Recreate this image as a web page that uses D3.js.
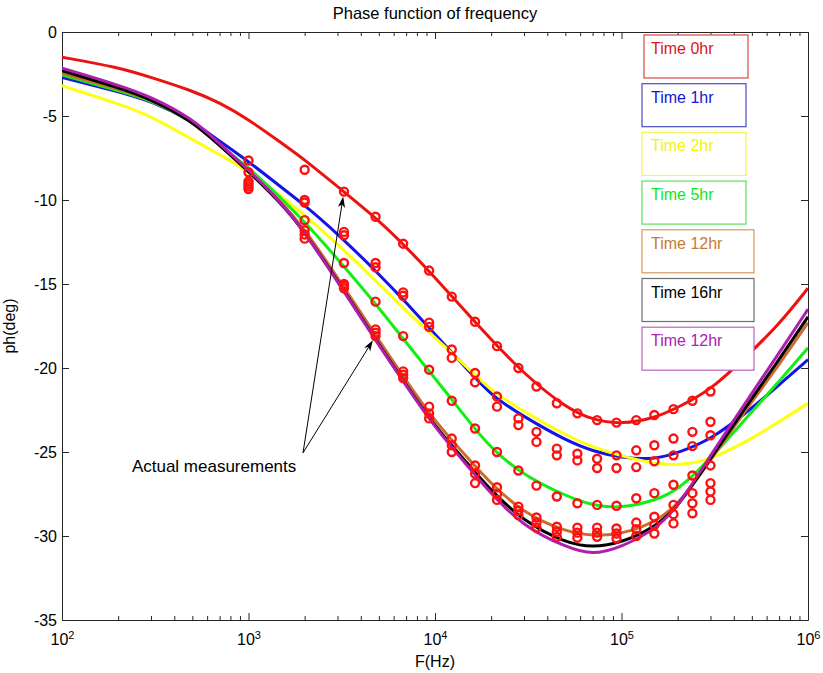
<!DOCTYPE html>
<html>
<head>
<meta charset="utf-8">
<script src="https://cdn.jsdelivr.net/npm/d3@7"></script>
<style>
  html, body { margin: 0; padding: 0; background: #fff; }
  svg { display: block; font-family: "Liberation Sans", Arial, Helvetica, sans-serif; }
</style>
</head>
<body>
<svg id="chart" width="823" height="673"></svg>
<script>
// ---- fitted phase curves (deg) sampled along frequency (Hz) ----
const curveFreq = [100, 200, 300, 500, 700, 1000, 1500, 2000, 3000, 5000, 7000, 10000,
  15000, 20000, 30000, 50000, 70000, 100000, 150000, 200000, 300000, 500000, 700000, 1000000];

const fit0hr  = [-1.5, -2.1, -2.7, -3.5, -4.2, -5.2, -6.6, -7.6, -9.2, -11.2, -12.8, -14.6,
  -16.8, -18.3, -20.35, -22.35, -23.1, -23.35, -23.0, -22.35, -21.35, -19.0, -17.4, -15.25];
const fit1hr  = [-2.7, -3.55, -4.1, -5.3, -6.5, -7.7, -9.25, -10.3, -12.0, -14.4, -16.1, -18.0,
  -20.1, -21.65, -22.9, -24.3, -24.95, -25.35, -25.45, -25.05, -24.3, -22.4, -21.0, -19.5];
const fit2hr  = [-3.2, -4.25, -5.0, -6.4, -7.3, -8.3, -9.8, -10.9, -12.6, -15.0, -16.6, -18.2,
  -20.0, -21.35, -22.6, -24.0, -24.7, -25.25, -25.7, -25.8, -25.5, -24.2, -23.2, -22.1];
const fit5hr  = [-2.55, -3.5, -4.05, -5.3, -6.75, -8.05, -9.9, -11.3, -13.5, -16.4, -18.5, -20.6,
  -23.1, -24.8, -26.4, -27.6, -28.2, -28.35, -27.9, -27.3, -25.4, -22.6, -20.8, -18.8];
const fit12hr = [-2.45, -3.4, -4.0, -5.3, -6.75, -8.25, -10.1, -11.75, -14.6, -18.35, -20.75, -23.2,
  -25.35, -26.9, -28.65, -29.75, -30.0, -29.9, -29.2, -28.2, -25.5, -22.0, -19.8, -17.3];
const fit16hr = [-2.3, -3.3, -4.0, -5.3, -6.75, -8.3, -10.2, -11.9, -14.8, -18.6, -21.0, -23.5,
  -25.7, -27.3, -29.15, -30.4, -30.7, -30.4, -29.5, -28.3, -25.4, -21.8, -19.5, -16.95];
const fit12hrB = [-2.15, -3.15, -3.85, -5.15, -6.65, -8.2, -10.15, -11.9, -14.85, -18.65, -21.05, -23.55,
  -25.85, -27.5, -29.45, -30.65, -31.15, -30.65, -29.65, -28.3, -25.2, -21.5, -19.1, -16.5];

// ---- measured phase (deg) at the sweep frequencies (Hz) ----
const measFreq = [1000, 2000, 3250, 4800, 6750, 9300, 12300, 16400, 21500, 28000,
  35000, 45000, 58000, 74000, 94000, 120000, 150000, 190000, 240000, 300000];

const meas0hr  = [null, -8.2, -9.5, -11.0, -12.6, -14.2, -15.75, -17.25, -18.7, -20.0,
  -21.1, -22.1, -22.7, -23.1, -23.25, -23.1, -22.8, -22.45, -21.95, -21.4];
const meas1hr  = [-7.65, -10.0, -11.9, -13.75, -15.5, -17.3, -18.9, -20.3, -21.7, -23.0,
  -23.8, -24.8, -25.1, -25.4, -25.2, -24.9, -24.6, -24.2, -23.8, -23.2];
const meas2hr  = [-8.35, -10.15, -12.1, -14.0, -15.7, -17.55, -19.4, -20.85, -22.3, -23.4,
  -24.4, -25.2, -25.5, -25.95, -25.95, -25.9, -25.55, -25.2, -24.65, -24.0];
const meas5hr  = [-8.9, -11.2, -13.75, -16.05, -18.1, -20.1, -21.95, -23.6, -25.0, -26.1,
  -27.0, -27.65, -28.05, -28.15, -28.2, -27.75, -27.45, -26.95, -26.4, -25.8];
const meas12hr = [-9.05, -11.8, -15.0, -17.7, -20.2, -22.3, -24.2, -25.8, -27.1, -28.25,
  -28.9, -29.45, -29.5, -29.5, -29.55, -29.2, -28.85, -28.15, -27.45, -26.85];
const meas16hr = [-9.2, -12.05, -15.1, -17.9, -20.4, -22.7, -24.6, -26.3, -27.5, -28.5,
  -29.2, -29.75, -29.8, -29.8, -29.85, -29.6, -29.35, -28.7, -28.05, -27.35];
const meas12hrB = [-9.35, -12.3, -15.25, -18.1, -20.6, -23.0, -25.0, -26.85, -27.85, -28.75,
  -29.5, -30.05, -30.1, -30.05, -30.15, -30.0, -29.85, -29.25, -28.65, -27.85];

const seriesNames  = ["Time 0hr", "Time 1hr", "Time 2hr", "Time 5hr", "Time 12hr", "Time 16hr", "Time 12hr"];
const seriesColors = ["#ee1111", "#1414e6", "#ffff10", "#14ee14", "#cc6c2c", "#000000", "#b01eb0"];
const textColors   = ["#e01414", "#1414d8", "#f4f400", "#14e614", "#c87a30", "#000000", "#b020b0"];
const boxColors    = ["#d84848", "#4a4ac0", "#f4f460", "#5ce05c", "#d8985c", "#6e6e6e", "#c060c0"];
const fitSeries    = [fit0hr, fit1hr, fit2hr, fit5hr, fit12hr, fit16hr, fit12hrB];
const measSeries   = [meas0hr, meas1hr, meas2hr, meas5hr, meas12hr, meas16hr, meas12hrB];

// ---- axes ----
const xDecades = [1e2, 1e3, 1e4, 1e5, 1e6];
const xMinor = [];
for (let d = 100; d < 1e6; d *= 10) for (let k = 2; k <= 9; k++) xMinor.push(d * k);
const yTicks = [0, -5, -10, -15, -20, -25, -30, -35];

// ---- annotation ----
const noteText = "Actual measurements";
const noteLabel = [237, -26.2];          // freq, phase of the label baseline start
const noteTail = [1960, -25.05];         // common arrow tail
const noteTargets = [[3250, -9.5], [4800, -18.1]];

const titleText = "Phase function of frequency";
const xLabel = "F(Hz)";
const yLabel = "ph(deg)";

// ---- layout ----
const W = 823, H = 673;
const margin = { left: 62, top: 32, right: 15, bottom: 53 };
const x0 = margin.left, x1 = W - margin.right, y0 = margin.top, y1 = H - margin.bottom;

const svg = d3.select("#chart");
const x = d3.scaleLog().domain([1e2, 1e6]).range([x0, x1]);
const y = d3.scaleLinear().domain([-35, 0]).range([y1, y0]);

const axisColor = "#262626";
const fontSize = 16;

function styleAxis(g) {
  g.selectAll(".domain").attr("stroke", axisColor).attr("stroke-width", 1);
  g.selectAll(".tick line").attr("stroke", axisColor).attr("stroke-width", 1);
  g.selectAll(".tick text").attr("fill", "#000").attr("font-size", fontSize)
    .attr("font-family", "Liberation Sans, Arial, sans-serif");
}

// bottom axis: major decades with 10^n labels
const gBottom = svg.append("g").attr("transform", `translate(0,${y1})`)
  .call(d3.axisBottom(x).tickValues(xDecades).tickSizeInner(-7).tickSizeOuter(0)
    .tickPadding(14).tickFormat(() => ""));
styleAxis(gBottom);
gBottom.selectAll(".tick text").each(function (d) {
  const t = d3.select(this);
  t.text(null);
  t.append("tspan").text("10");
  t.append("tspan").attr("dy", "-0.55em").attr("font-size", 11).text(Math.round(Math.log10(d)));
});
svg.append("g").attr("transform", `translate(0,${y1})`)
  .call(d3.axisBottom(x).tickValues(xMinor).tickSizeInner(-4).tickSizeOuter(0).tickFormat(() => ""))
  .call(g => { g.select(".domain").remove(); styleAxis(g); });

// top axis (ticks only)
svg.append("g").attr("transform", `translate(0,${y0})`)
  .call(d3.axisTop(x).tickValues(xDecades).tickSizeInner(-7).tickSizeOuter(0).tickFormat(() => ""))
  .call(styleAxis);
svg.append("g").attr("transform", `translate(0,${y0})`)
  .call(d3.axisTop(x).tickValues(xMinor).tickSizeInner(-4).tickSizeOuter(0).tickFormat(() => ""))
  .call(g => { g.select(".domain").remove(); styleAxis(g); });

// left axis with labels
svg.append("g").attr("transform", `translate(${x0},0)`)
  .call(d3.axisLeft(y).tickValues(yTicks).tickSizeInner(-7).tickSizeOuter(0)
    .tickPadding(5).tickFormat(d => String(d)))
  .call(styleAxis);
// right axis (ticks only)
svg.append("g").attr("transform", `translate(${x1},0)`)
  .call(d3.axisRight(y).tickValues(yTicks).tickSizeInner(-7).tickSizeOuter(0).tickFormat(() => ""))
  .call(styleAxis);

// ---- fitted curves ----
svg.append("defs").append("clipPath").attr("id", "plotClip")
  .append("rect").attr("x", x0).attr("y", y0).attr("width", x1 - x0).attr("height", y1 - y0);

const line = d3.line()
  .x(d => x(d[0])).y(d => y(d[1]))
  .curve(d3.curveBasis);

const gLines = svg.append("g").attr("clip-path", "url(#plotClip)");
fitSeries.forEach((vals, i) => {
  gLines.append("path")
    .datum(curveFreq.map((f, j) => [f, vals[j]]))
    .attr("fill", "none")
    .attr("stroke", seriesColors[i])
    .attr("stroke-width", 3)
    .attr("stroke-linejoin", "round")
    .attr("d", line);
});

// ---- measurements (red circles) ----
const markR = 4;
const gMarks = svg.append("g");
measSeries.forEach(vals => {
  const pts = measFreq.map((f, j) => [f, vals[j]]).filter(p => p[1] !== null);
  gMarks.selectAll(null).data(pts).enter().append("circle")
    .attr("cx", d => x(d[0])).attr("cy", d => y(d[1]))
    .attr("r", markR)
    .attr("fill", "none")
    .attr("stroke", "#ff1010")
    .attr("stroke-width", 2.4);
});

// ---- annotation arrows ----
const gNote = svg.append("g");
const tx = x(noteTail[0]), ty = y(noteTail[1]);
noteTargets.forEach(t => {
  const px = x(t[0]), py = y(t[1]);
  const dx = px - tx, dy = py - ty, len = Math.hypot(dx, dy);
  const ux = dx / len, uy = dy / len, nx = -uy, ny = ux;
  const tipX = px - ux * (markR + 1), tipY = py - uy * (markR + 1);
  gNote.append("line")
    .attr("x1", tx).attr("y1", ty).attr("x2", tipX - ux * 6).attr("y2", tipY - uy * 6)
    .attr("stroke", "#000").attr("stroke-width", 1);
  const L = 11, w = 3.6, notch = 3;
  const head = [
    [tipX, tipY],
    [tipX - ux * L + nx * w, tipY - uy * L + ny * w],
    [tipX - ux * (L - notch), tipY - uy * (L - notch)],
    [tipX - ux * L - nx * w, tipY - uy * L - ny * w]
  ];
  gNote.append("path").attr("d", "M" + head.map(p => p.join(",")).join("L") + "Z")
    .attr("fill", "#000");
});
gNote.append("text")
  .attr("x", x(noteLabel[0])).attr("y", y(noteLabel[1]))
  .attr("font-size", 17).attr("fill", "#000")
  .text(noteText);

// ---- text boxes naming each series ----
const gLegend = svg.append("g");
const boxX = 642, boxTop = 35, boxStep = 48.7, boxH = 43;
seriesNames.forEach((name, i) => {
  const top = boxTop + i * boxStep;
  const g = gLegend.append("g");
  const rect = g.append("rect");
  const txt = g.append("text")
    .attr("x", boxX + 9).attr("y", top + 19)
    .attr("font-size", fontSize).attr("fill", textColors[i])
    .text(name);
  const tw = txt.node().getComputedTextLength();
  rect.attr("x", boxX + (i === 0 ? 2 : 0)).attr("y", top)
    .attr("width", Math.round(tw + 41)).attr("height", boxH)
    .attr("fill", "#fff").attr("stroke", boxColors[i]).attr("stroke-width", 1.2);
});

// ---- titles ----
svg.append("text").attr("x", (x0 + x1) / 2).attr("y", 19)
  .attr("text-anchor", "middle").attr("font-size", 16.5).text(titleText);
svg.append("text").attr("x", (x0 + x1) / 2).attr("y", 667)
  .attr("text-anchor", "middle").attr("font-size", fontSize).text(xLabel);
svg.append("text").attr("transform", `translate(15,${(y0 + y1) / 2}) rotate(-90)`)
  .attr("text-anchor", "middle").attr("font-size", fontSize).text(yLabel);
</script>
</body>
</html>
